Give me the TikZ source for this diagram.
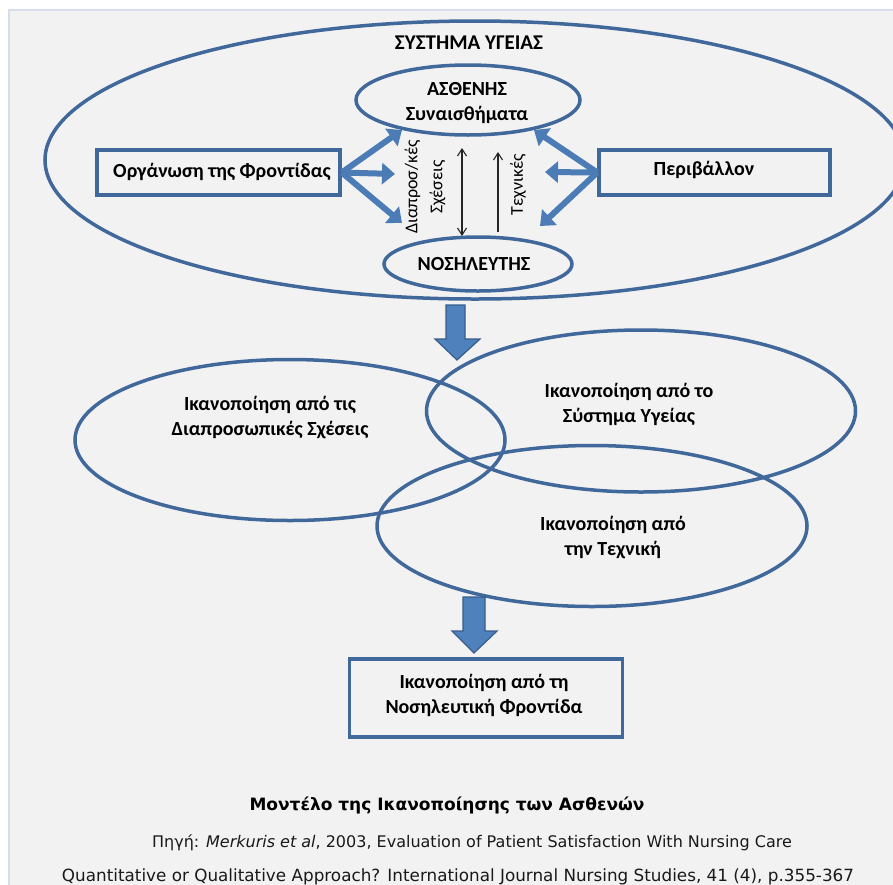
\documentclass[tikz,border=0pt]{standalone}
\usepackage{fontspec}
\setmainfont{Carlito}
\newfontfamily\comicfont{DejaVu Sans}
\usetikzlibrary{shapes.geometric,arrows.meta}
\definecolor{lineblue}{HTML}{41689B}
\definecolor{fillblue}{HTML}{4F81BD}
\definecolor{darkblue}{HTML}{385D8A}
\definecolor{panel}{HTML}{F2F2F2}
\definecolor{panelborder}{HTML}{D6DEEA}
\begin{document}
\begin{tikzpicture}[x=1pt,y=-1pt,
  ell/.style={ellipse,draw=lineblue,line width=3.5pt,inner sep=0pt},
  boxnode/.style={rectangle,draw=lineblue,line width=3.5pt,inner sep=0pt},
  lbl/.style={font=\bfseries\fontsize{20}{25}\selectfont,align=center,text=black},
  rotlbl/.style={font=\fontsize{18}{25}\selectfont,align=center,rotate=90,text=black},
  thick arrow/.style={draw=fillblue!85!darkblue,line width=6pt,-{Triangle[width=21pt,length=13pt]}},
  thin arrow/.style={draw=black!85,line width=1.1pt},
  block arrow/.style={fill=fillblue,draw=darkblue,line width=1.2pt,line join=miter}
]
\clip (0,0) rectangle (893,884);
\fill[white] (0,0) rectangle (893,884);
\draw[panelborder,fill=panel,line width=1.2pt] (9,10) rectangle (905,900);

% top system
\node[ell,minimum width=860,minimum height=278] (sys) at (475,160) {};
\node[lbl,font=\bfseries\fontsize{21}{24}\selectfont] (systxt) at (469,43) {ΣΥΣΤΗΜΑ ΥΓΕΙΑΣ};
\node[ell,minimum width=224,minimum height=70] (pat) at (468,100) {};
\node[lbl] (pattxt) at (467,103) {ΑΣΘΕΝΗΣ\\Συναισθήματα};
\node[ell,minimum width=188,minimum height=54] (nur) at (478,264) {};
\node[lbl] (nurtxt) at (474,264) {ΝΟΣΗΛΕΥΤΗΣ};

\node[boxnode,minimum width=243,minimum height=45] (org) at (218.5,172.5) {};
\node[lbl] (orgtxt) at (222,172) {Οργάνωση της Φροντίδας};
\node[boxnode,minimum width=231,minimum height=45] (env) at (714.5,172.5) {};
\node[lbl] (envtxt) at (704,170) {Περιβάλλον};

% thick arrows
\coordinate (l1) at (402,130);
\coordinate (l2) at (395,174);
\coordinate (l3) at (402,223);
\coordinate (r1) at (534,130);
\coordinate (r2) at (545,172);
\coordinate (r3) at (540,226);
\draw[thick arrow] (org.east) -- (l1);
\draw[thick arrow] (org.east) -- (l2);
\draw[thick arrow] (org.east) -- (l3);
\draw[thick arrow] (env.west) -- (r1);
\draw[thick arrow] (env.west) -- (r2);
\draw[thick arrow] (env.west) -- (r3);

% thin arrows
\coordinate (d1) at (462,148);
\coordinate (d2) at (462,236);
\draw[thin arrow,{Straight Barb[length=7pt,width=9pt]}-{Straight Barb[length=7pt,width=9pt]}] (d1) -- (d2);
\coordinate (t1) at (498,232);
\coordinate (t2) at (498,152);
\draw[thin arrow,-{Straight Barb[length=7pt,width=9pt]}] (t1) -- (t2);
\node[rotlbl] (rel) at (425,187) {Διαπροσ/κές\\Σχέσεις};
\node[rotlbl] (tech) at (518,185) {Τεχνικές};

% down arrow 1
\draw[block arrow] (446,305) -- (465,305) -- (465,339) -- (480,339) -- (457,360) -- (435,339) -- (446,339) -- cycle;

% three ellipses
\node[ell,minimum width=430,minimum height=161] (e1) at (290,440) {};
\node[ell,minimum width=429,minimum height=162] (e2) at (641,411) {};
\node[ell,minimum width=430,minimum height=161] (e3) at (592,526) {};
\node[lbl] (e1txt) at (270,418) {Ικανοποίηση από τις\\Διαπροσωπικές Σχέσεις};
\node[lbl] (e2txt) at (629,404) {Ικανοποίηση από το\\Σύστημα Υγείας};
\node[lbl] (e3txt) at (613,538) {Ικανοποίηση από\\την Τεχνική};

% down arrow 2
\draw[block arrow] (463,597) -- (485,597) -- (485,631) -- (497,631) -- (474,653) -- (452,631) -- (463,631) -- cycle;

% final box
\node[boxnode,minimum width=273,minimum height=78] (fin) at (486,698) {};
\node[lbl] (fintxt) at (484,695) {Ικανοποίηση από τη\\Νοσηλευτική Φροντίδα};

% caption
\node[font=\comicfont\bfseries\fontsize{17}{20}\selectfont,text=black] (title) at (447,805) {Μοντέλο της Ικανοποίησης των Ασθενών};
\node[font=\comicfont\fontsize{16}{18}\selectfont,text=black!90] (src1) at (472,843) {Πηγή: \textit{Merkuris et al}, 2003, Evaluation of Patient Satisfaction With Nursing Care};
\node[font=\comicfont\fontsize{16.8}{18}\selectfont,text=black!90] (src2) at (458,877) {Quantitative or Qualitative Approach? International Journal Nursing Studies, 41 (4), p.355-367};
\end{tikzpicture}
\end{document}
